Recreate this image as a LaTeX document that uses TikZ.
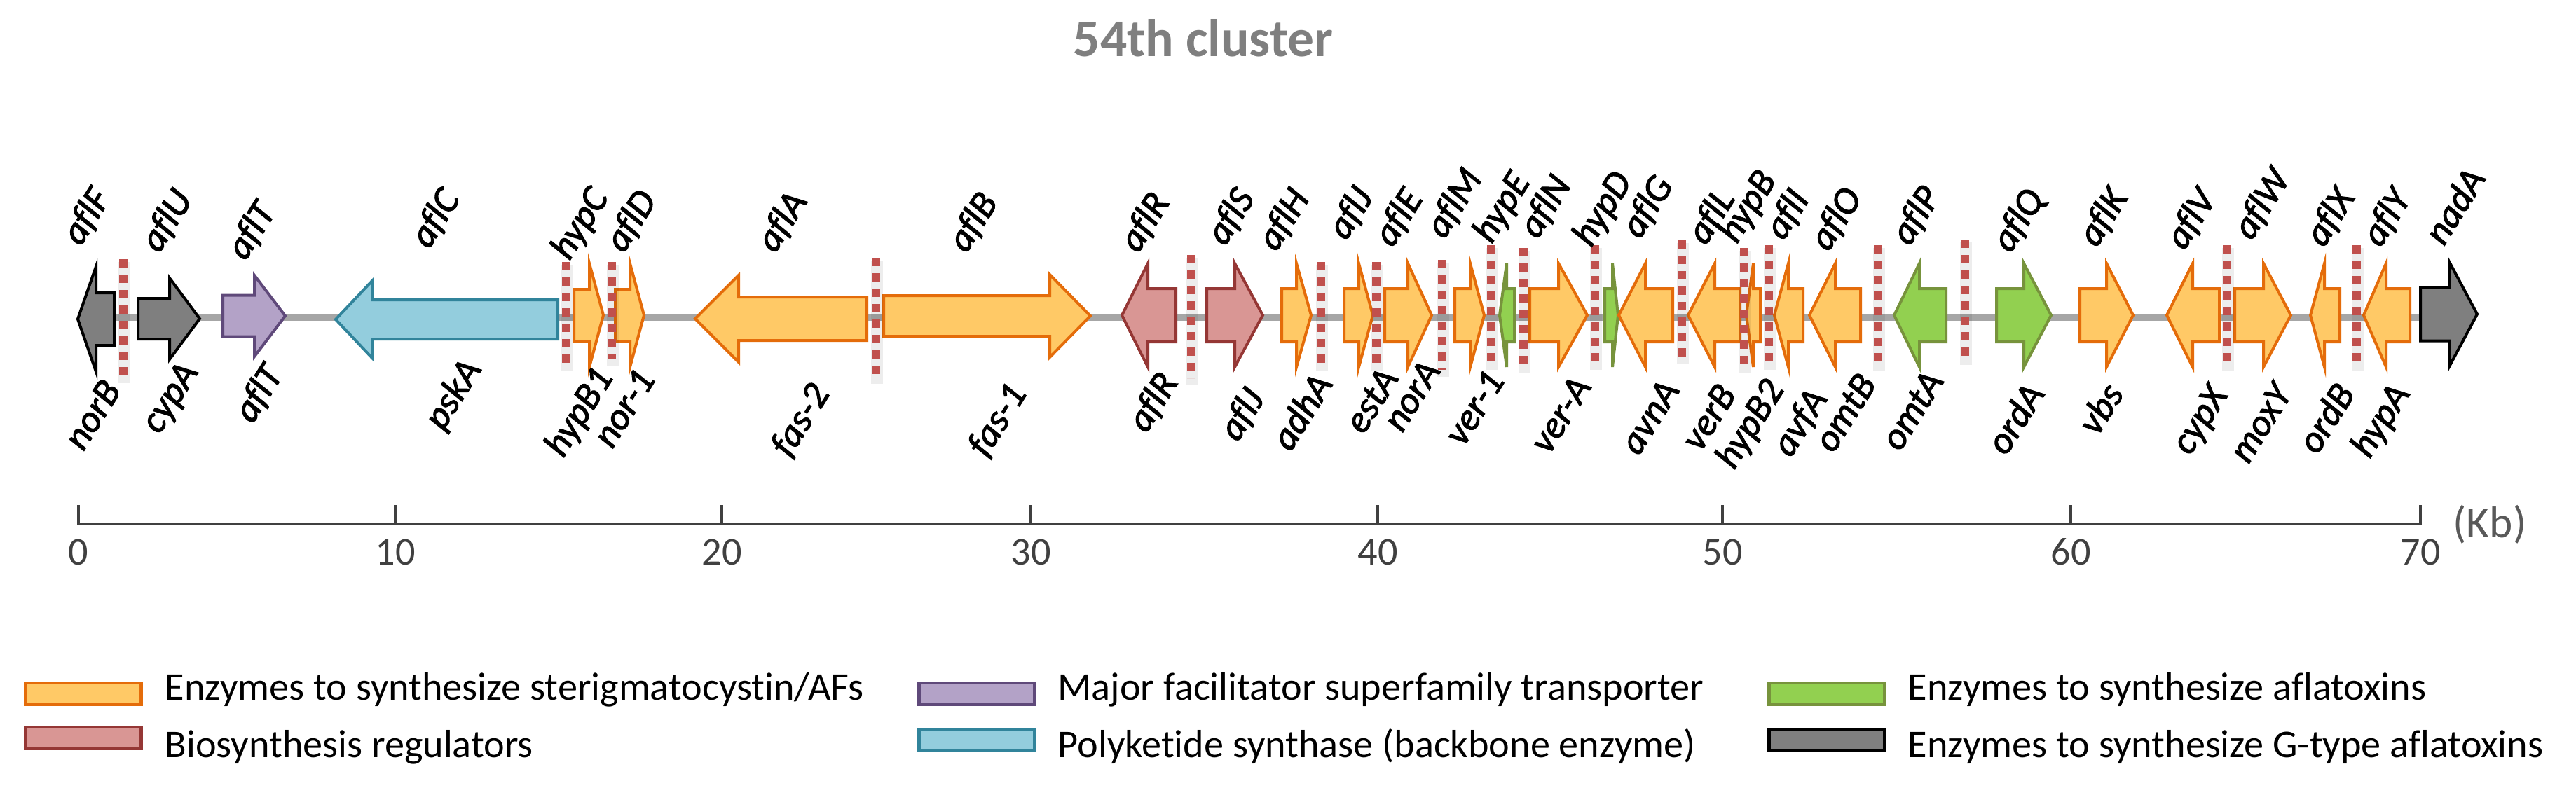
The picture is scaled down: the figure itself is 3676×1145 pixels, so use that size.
\documentclass[tikz,border=0pt]{standalone}
\usepackage{fontspec}
\setmainfont{Carlito}[Ligatures=NoCommon]
\newfontfamily\genefont{Carlito}[Ligatures=NoCommon,ItalicFeatures={FakeBold=2}]
\definecolor{stfill}{HTML}{FFC966}
\definecolor{stline}{HTML}{E46C0A}
\definecolor{regfill}{HTML}{D99694}
\definecolor{regline}{HTML}{953735}
\definecolor{mfsfill}{HTML}{B3A2C7}
\definecolor{mfsline}{HTML}{5F497A}
\definecolor{pksfill}{HTML}{93CDDD}
\definecolor{pksline}{HTML}{31849B}
\definecolor{affill}{HTML}{92D050}
\definecolor{afline}{HTML}{77933C}
\definecolor{gfill}{HTML}{7F7F7F}
\definecolor{cut}{HTML}{C0504D}
\definecolor{backbone}{HTML}{A6A6A6}
\definecolor{axisink}{HTML}{404040}
\definecolor{titleink}{HTML}{7F7F7F}
\definecolor{unitink}{HTML}{595959}

\begin{document}
\begin{tikzpicture}[x=0.1mm,y=-0.1mm,
  gene/.style={line width=0.4mm,line join=miter},
  stgene/.style={gene,draw=stline,fill=stfill},
  reggene/.style={gene,draw=regline,fill=regfill},
  mfsgene/.style={gene,draw=mfsline,fill=mfsfill},
  pksgene/.style={gene,draw=pksline,fill=pksfill},
  afgene/.style={gene,draw=afline,fill=affill},
  ggene/.style={gene,draw=black,fill=gfill},
  upper/.style={rotate=58,anchor=base west,inner sep=0pt,
    font=\genefont\fontsize{15.5}{18}\selectfont\itshape},
  lower/.style={rotate=58,anchor=north east,inner sep=0pt,text height=0.7em,
    font=\genefont\fontsize{15.5}{18}\selectfont\itshape},
  cutline/.style={draw=cut,line width=1.2mm,dash pattern=on 1.2mm off 1mm},
  cutshade/.style={draw=black,opacity=0.07,line width=1.7mm},
  key/.style={line width=0.45mm,minimum width=16.5mm,minimum height=3.05mm,inner sep=0pt},
  keytext/.style={anchor=base west,inner sep=0pt,font=\fontsize{16}{19}\selectfont},
  tick/.style={anchor=base,inner sep=0pt,text=axisink,font=\fontsize{16}{19}\selectfont}
]
\useasboundingbox (0,0) rectangle (3676,1145);
\node[anchor=base,text=titleink,font=\bfseries\fontsize{21.5}{25}\selectfont] (title)
  at (1717,80) {54th cluster};
% Backbone and the gene arrows: tail / neck / tip / head half / shaft half / centre
\draw[draw=backbone,line width=1mm] (137,453) -- (3460,453);
\foreach \tl/\nk/\tp/\hh/\sh/\cy/\kind in {
  163/137/111/75/37.5/455.5/ggene, 197/242/285/58/29/455/ggene,
  318/363/407/58/29.5/451/mfsgene, 796/531/479/55/28/456/pksgene,
  819/841/861/74/37/450/stgene, 878/899/919/74/37/450/stgene,
  1237/1054/992/62/31/455/stgene, 1261/1498/1556/59/29/451/stgene,
  1678/1638/1601/74/38/450/reggene, 1722/1762/1802/74/38/450/reggene,
  1829/1850/1871/74/38/450/stgene, 1918/1939/1959/74/38/450/stgene,
  1976/2009/2043/74/38/450/stgene, 2076/2098/2118/74/38/450/stgene,
  2161/2150/2140/74/38/450/afgene, 2183/2224/2265/74/38/450/stgene,
  2290/2301/2309/74/38/450/afgene, 2387/2348/2310/74/38/450/stgene,
  2483/2447/2409/74/38/450/stgene, 2512/2502/2492/74/38/450/stgene,
  2573/2552/2532/74/38/450/stgene, 2655/2619/2582/74/38/450/stgene,
  2777/2739/2703/74/38/450/afgene, 2849/2888/2927/74/38/450/afgene,
  2968/3006/3044/74/38/450/stgene, 3167/3129/3092/74/38/450/stgene,
  3189/3230/3269/74/38/450/stgene, 3339/3317/3297/74/38/450/stgene,
  3439/3405/3373/74/38/450/stgene, 3454/3495/3535/75/38/448.5/ggene}
  \draw[\kind] (\tl,\cy-\sh) -- (\nk,\cy-\sh) -- (\nk,\cy-\hh) -- (\tp,\cy)
    -- (\nk,\cy+\hh) -- (\nk,\cy+\sh) -- (\tl,\cy+\sh) -- cycle;
% Red dotted breaks laid over the genes
\foreach \x/\ya/\yb in {176/370/537, 808/374/519, 873/374/513, 1250/368/538,
  1700/364/540, 1885/374/519, 1964/374/519, 2058/371/528, 2128/350/518,
  2174/354/522, 2276/350/518, 2400/343/510, 2489/354/522, 2524/350/518,
  2680/350/519, 2804/342/511, 3178/350/519, 3363/350/519}{
  \draw[cutshade] (\x+1,\ya+4) -- (\x+1,\yb+10);
  \draw[cutline] (\x,\ya) -- (\x,\yb);
}
% Gene names above and below the track
\foreach \g/\x/\y in {aflF/115/353, aflU/227/363, aflT/350/374, aflC/612/357,
  hypC/812/374, aflD/890/363, aflA/1106/363, aflB/1379/363, aflR/1624/363,
  aflS/1748/353, aflH/1821/361, aflJ/1921/345, aflE/1987/355, aflM/2061/343,
  hypE/2128/350, aflN/2194/343, hypD/2270/355, aflG/2340/343, aflL/2434/352,
  hypB/2478/350, aflI/2545/345, aflO/2609/361, aflP/2725/353, aflQ/2869/363,
  aflK/2992/355, aflV/3117/359, aflW/3213/345, aflX/3316/355, aflY/3397/355,
  nadA/3487/353}
  \node[upper] (up-\g) at (\x,\y) {\g};
\foreach \g/\x/\y in {norB/153/543, cypA/263/517, aflT/384/521, pskA/667/513,
  hypB1/855/525, nor-1/915/528, fas-2/1164/548, fas-1/1445/548, aflR/1661/532,
  aflJ/1785/555, adhA/1882/534, estA/1976/526, norA/2036/515, ver-1/2127/530,
  ver-A/2251/538, avnA/2377/543, verB/2458/549, hypB2/2526/542, avfA/2588/555,
  omtB/2658/534, omtA/2754/530, ordA/2898/548, vbs/3011/548, cypX/3159/550,
  moxY/3251/548, ordB/3341/548, hypA/3419/548}
  \node[lower] (lo-\g) at (\x,\y) {\g};
% Scale in kilobases
\draw[draw=axisink,line width=0.33mm] (112,721) -- (112,748) -- (3454,748) -- (3454,721);
\foreach \x/\kb in {112/0, 564/10, 1030/20, 1471/30, 1966/40, 2458/50, 2955/60, 3454/70}{
  \draw[draw=axisink,line width=0.33mm] (\x,721) -- (\x,748);
  \node[tick] (kb\kb) at (\x,806) {\kb};
}
\node[anchor=base west,inner sep=0pt,text=unitink,font=\fontsize{18}{21}\selectfont]
  (unit) at (3500,767) {(Kb)};
% Legend
\node[key,draw=stline,fill=stfill] (keyst) at (119,990) {};
\node[keytext] (legst) at (235,999) {Enzymes to synthesize sterigmatocystin/AFs};
\node[key,draw=regline,fill=regfill] (keyreg) at (119,1053) {};
\node[keytext] (legreg) at (235,1081) {Biosynthesis regulators};
\node[key,draw=mfsline,fill=mfsfill] (keymfs) at (1394,990) {};
\node[keytext] (legmfs) at (1509,999) {Major facilitator superfamily transporter};
\node[key,draw=pksline,fill=pksfill] (keypks) at (1394,1056) {};
\node[keytext] (legpks) at (1509,1081) {Polyketide synthase (backbone enzyme)};
\node[key,draw=afline,fill=affill] (keyaf) at (2607,990) {};
\node[keytext] (legaf) at (2722,999) {Enzymes to synthesize aflatoxins};
\node[key,draw=black,fill=gfill] (keyg) at (2607,1056) {};
\node[keytext] (legg) at (2722,1081) {Enzymes to synthesize G-type aflatoxins};
\end{tikzpicture}
\end{document}
